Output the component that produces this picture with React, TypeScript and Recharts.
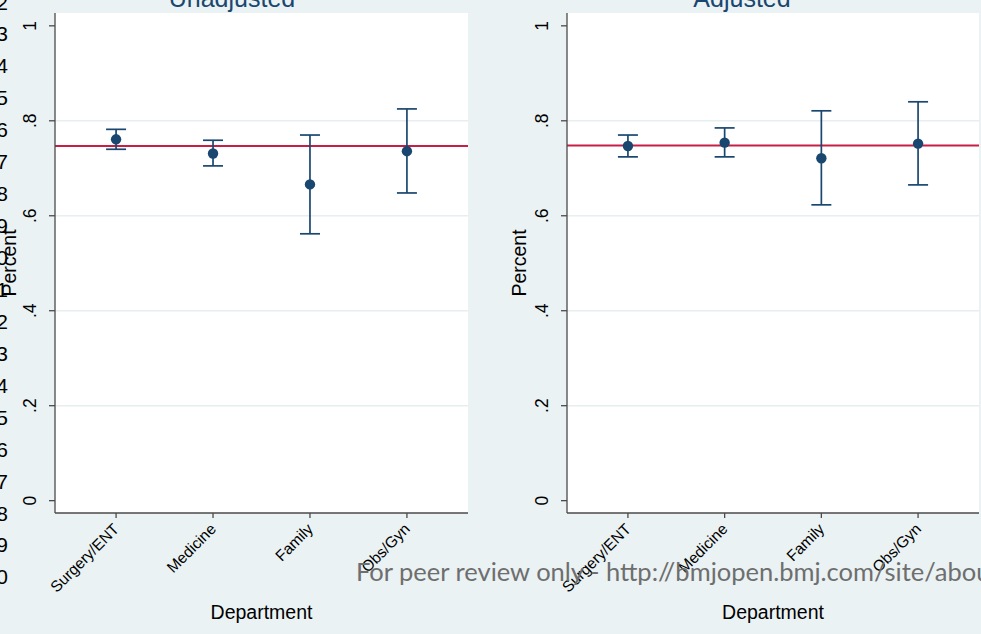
import React from "react";
import {
  ScatterChart,
  Scatter,
  ErrorBar,
  XAxis,
  YAxis,
  CartesianGrid,
  ReferenceLine,
} from "recharts";

// ---------- data ----------
const departments = ["Surgery/ENT", "Medicine", "Family", "Obs/Gyn"];

const unadjustedMean = [0.761, 0.731, 0.666, 0.736];
const unadjustedLow = [0.740, 0.705, 0.562, 0.648];
const unadjustedHigh = [0.782, 0.759, 0.770, 0.825];
const unadjustedOverall = 0.747;

const adjustedMean = [0.747, 0.754, 0.721, 0.752];
const adjustedLow = [0.724, 0.724, 0.623, 0.665];
const adjustedHigh = [0.770, 0.785, 0.821, 0.840];
const adjustedOverall = 0.748;

const yTicks = [0, 0.2, 0.4, 0.6, 0.8, 1];
const yTickLabels = ["0", ".2", ".4", ".6", ".8", "1"];
const gridValues = [0.2, 0.4, 0.6, 0.8];
const xTicks = [1, 2, 3, 4];

const panelTitles = ["Unadjusted", "Adjusted"];
const xAxisTitle = "Department";
const yAxisTitle = "Percent";
const watermark =
  "For peer review only - http://bmjopen.bmj.com/site/about/guidelines.xhtml";
const lineNumbers = ["2", "3", "4", "5", "6", "7", "8", "9", "0", "1", "2", "3", "4", "5", "6", "7", "8", "9", "0"];

// ---------- style ----------
const W = 981;
const H = 634;
const BG = "#eaf2f3";
const NAVY = "#1a476f";
const RED = "#c81e46";
const AXIS = "#4a4a4a";
const FONT = "'Liberation Sans', Arial, Helvetica, sans-serif";

function buildRows(means: number[], lows: number[], highs: number[]) {
  return departments.map((d, i) => ({
    x: i + 1,
    name: d,
    mean: means[i],
    err: [means[i] - lows[i], highs[i] - means[i]],
  }));
}

const XTick = (props: any) => {
  const { x, y, payload } = props;
  const label = departments[Math.round(payload.value) - 1] ?? "";
  return (
    <text
      x={0}
      y={0}
      transform={`translate(${x + 4},${y + 10}) rotate(-45)`}
      textAnchor="end"
      fontSize={15.5}
      fill="#000"
      fontFamily={FONT}
    >
      {label}
    </text>
  );
};

const YTick = (props: any) => {
  const { x, y, payload } = props;
  const idx = yTicks.findIndex((t) => Math.abs(t - payload.value) < 1e-9);
  return (
    <text
      x={0}
      y={0}
      transform={`translate(${x - 13},${y}) rotate(-90)`}
      textAnchor="middle"
      fontSize={17.5}
      fill="#000"
      fontFamily={FONT}
    >
      {idx >= 0 ? yTickLabels[idx] : ""}
    </text>
  );
};

const Dot = (props: any) => (
  <circle cx={props.cx} cy={props.cy} r={5.2} fill={NAVY} />
);

function Panel({
  width,
  margin,
  rows,
  overall,
}: {
  width: number;
  margin: { top: number; right: number; bottom: number; left: number };
  rows: any[];
  overall: number;
}) {
  return (
    <ScatterChart width={width} height={H} margin={margin}>
      <CartesianGrid
        fill="#ffffff"
        fillOpacity={1}
        stroke="#e6eef0"
        strokeWidth={1.5}
        vertical={false}
        horizontalValues={gridValues}
      />
      <XAxis
        type="number"
        dataKey="x"
        domain={[0.37, 4.63]}
        allowDataOverflow
        ticks={xTicks}
        interval={0}
        tick={<XTick />}
        tickSize={5}
        tickMargin={2}
        height={60}
        stroke={AXIS}
        strokeWidth={1.3}
      />
      <YAxis
        type="number"
        dataKey="mean"
        domain={[-0.026, 1.027]}
        allowDataOverflow
        ticks={yTicks}
        interval={0}
        tick={<YTick />}
        tickSize={6}
        tickMargin={0}
        width={40}
        stroke={AXIS}
        strokeWidth={1.3}
      />
      <ReferenceLine y={overall} stroke={RED} strokeWidth={2} ifOverflow="hidden" />
      <Scatter data={rows} dataKey="mean" shape={<Dot />} isAnimationActive={false}>
        <ErrorBar
          dataKey="err"
          direction="y"
          width={10}
          stroke={NAVY}
          strokeWidth={1.7}
          isAnimationActive={false}
        />
      </Scatter>
    </ScatterChart>
  );
}

export default function App() {
  const leftRows = buildRows(unadjustedMean, unadjustedLow, unadjustedHigh);
  const rightRows = buildRows(adjustedMean, adjustedLow, adjustedHigh);
  return (
    <div
      style={{
        position: "absolute",
        left: 0,
        top: 0,
        width: W,
        height: H,
        background: BG,
        overflow: "hidden",
      }}
    >
      <div style={{ position: "absolute", left: 0, top: 0 }}>
        <Panel
          width={490}
          margin={{ top: 13, right: 22, bottom: 61, left: 15 }}
          rows={leftRows}
          overall={unadjustedOverall}
        />
      </div>
      <div style={{ position: "absolute", left: 490, top: 0 }}>
        <Panel
          width={491}
          margin={{ top: 13, right: 2, bottom: 61, left: 37 }}
          rows={rightRows}
          overall={adjustedOverall}
        />
      </div>
      <svg
        width={W}
        height={H}
        style={{ position: "absolute", left: 0, top: 0, pointerEvents: "none" }}
      >
        {/* panel titles */}
        <text x={232} y={7} textAnchor="middle" fontSize={25} fill={NAVY} fontFamily={FONT}>
          {panelTitles[0]}
        </text>
        <text x={742} y={7} textAnchor="middle" fontSize={25} fill={NAVY} fontFamily={FONT}>
          {panelTitles[1]}
        </text>
        {/* y axis titles */}
        <text
          transform="translate(16,263) rotate(-90)"
          textAnchor="middle"
          fontSize={19.5}
          fill="#000"
          fontFamily={FONT}
        >
          {yAxisTitle}
        </text>
        <text
          transform="translate(526,263) rotate(-90)"
          textAnchor="middle"
          fontSize={19.5}
          fill="#000"
          fontFamily={FONT}
        >
          {yAxisTitle}
        </text>
        {/* x axis titles */}
        <text x={261.5} y={619} textAnchor="middle" fontSize={19.5} fill="#000" fontFamily={FONT}>
          {xAxisTitle}
        </text>
        <text x={773} y={619} textAnchor="middle" fontSize={19.5} fill="#000" fontFamily={FONT}>
          {xAxisTitle}
        </text>
        {/* page line numbers (cut at the left edge) */}
        {lineNumbers.map((n, i) => (
          <text
            key={i}
            x={8}
            y={2 + i * 31.94 + 7.5}
            textAnchor="end"
            fontSize={21}
            fill="#000"
            fontFamily={FONT}
          >
            {n}
          </text>
        ))}
        {/* watermark */}
        <text x={356} y={581} fontSize={25.5} fill="#6e6e6e" fontFamily="Lato, 'Open Sans', sans-serif">
          {watermark}
        </text>
      </svg>
    </div>
  );
}
